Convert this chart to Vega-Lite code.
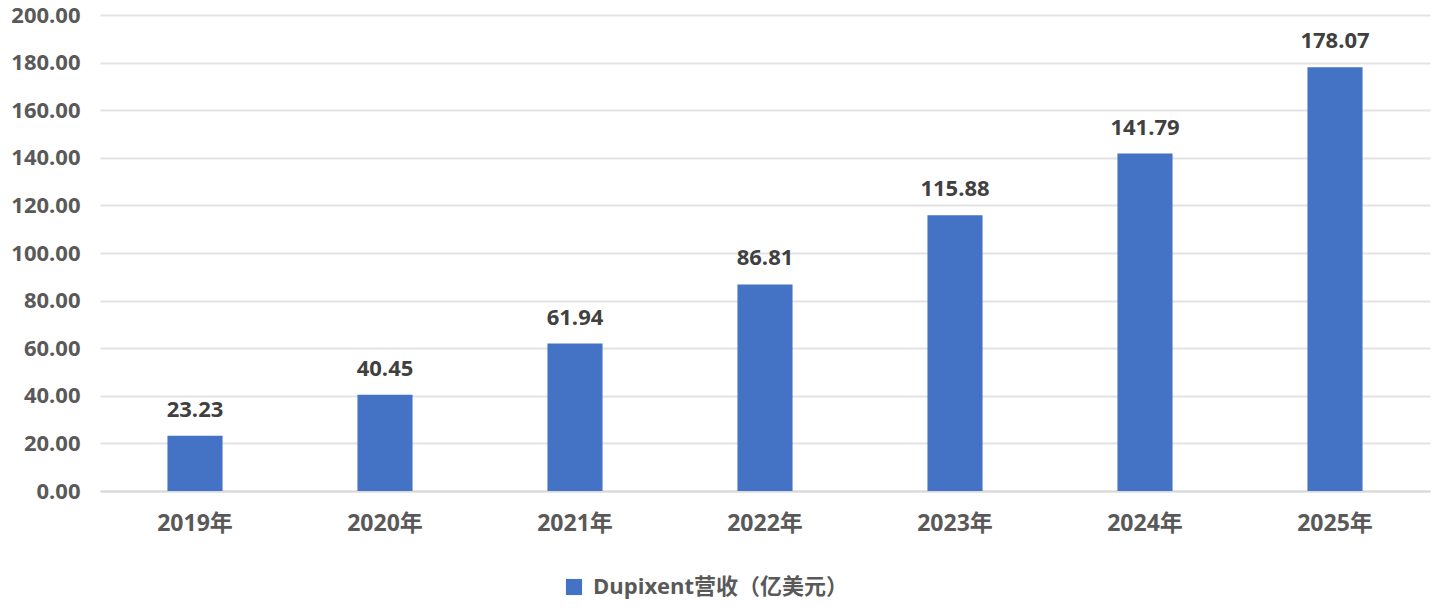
{
  "$schema": "https://vega.github.io/schema/vega-lite/v6.json",
  "autosize": "none",
  "width": 1330,
  "height": 476,
  "padding": {"left": 100, "top": 15, "right": 9, "bottom": 123},
  "background": "white",
  "config": {
    "view": {"stroke": null},
    "font": "Open Sans, Noto Sans CJK SC"
  },
  "data": {
    "values": [
      {"year": "2019年", "value": 23.23, "series": "Dupixent营收（亿美元）"},
      {"year": "2020年", "value": 40.45, "series": "Dupixent营收（亿美元）"},
      {"year": "2021年", "value": 61.94, "series": "Dupixent营收（亿美元）"},
      {"year": "2022年", "value": 86.81, "series": "Dupixent营收（亿美元）"},
      {"year": "2023年", "value": 115.88, "series": "Dupixent营收（亿美元）"},
      {"year": "2024年", "value": 141.79, "series": "Dupixent营收（亿美元）"},
      {"year": "2025年", "value": 178.07, "series": "Dupixent营收（亿美元）"}
    ]
  },
  "encoding": {
    "x": {
      "field": "year",
      "type": "nominal",
      "sort": null,
      "scale": {"paddingInner": 0.71, "paddingOuter": 0.355},
      "axis": {
        "title": null,
        "labelAngle": 0,
        "labelFont": "Open Sans, Noto Sans CJK SC",
        "labelFontSize": 23,
        "labelFontWeight": "bold",
        "labelColor": "#595959",
        "labelPadding": 21,
        "ticks": false,
        "domain": true,
        "domainColor": "#d9d9d9",
        "domainWidth": 2
      }
    },
    "y": {
      "field": "value",
      "type": "quantitative",
      "scale": {"domain": [0, 200], "nice": false},
      "axis": {
        "title": null,
        "values": [0, 20, 40, 60, 80, 100, 120, 140, 160, 180, 200],
        "format": ".2f",
        "labelFont": "Open Sans",
        "labelFontSize": 22,
        "labelFontWeight": "bold",
        "labelColor": "#595959",
        "labelPadding": 20,
        "ticks": false,
        "domain": false,
        "grid": true,
        "gridColor": "#e3e3e3",
        "gridWidth": 2
      }
    }
  },
  "layer": [
    {
      "mark": {"type": "bar", "color": "#4472C4"},
      "encoding": {
        "color": {
          "field": "series",
          "type": "nominal",
          "scale": {"range": ["#4472C4"]},
          "legend": {
            "title": null,
            "orient": "none",
            "legendX": 463,
            "legendY": 561,
            "symbolType": "square",
            "symbolSize": 260,
            "symbolStrokeWidth": 0,
            "labelFont": "Open Sans, Noto Sans CJK SC",
            "labelFontSize": 22,
            "labelFontWeight": "bold",
            "labelColor": "#595959",
            "labelOffset": 8,
            "labelLimit": 500
          }
        }
      }
    },
    {
      "mark": {
        "type": "text",
        "baseline": "alphabetic",
        "dy": -19,
        "fontSize": 22,
        "fontWeight": "bold",
        "color": "#404040",
        "font": "Open Sans"
      },
      "encoding": {
        "text": {"field": "value", "type": "quantitative", "format": ".2f"}
      }
    }
  ]
}
